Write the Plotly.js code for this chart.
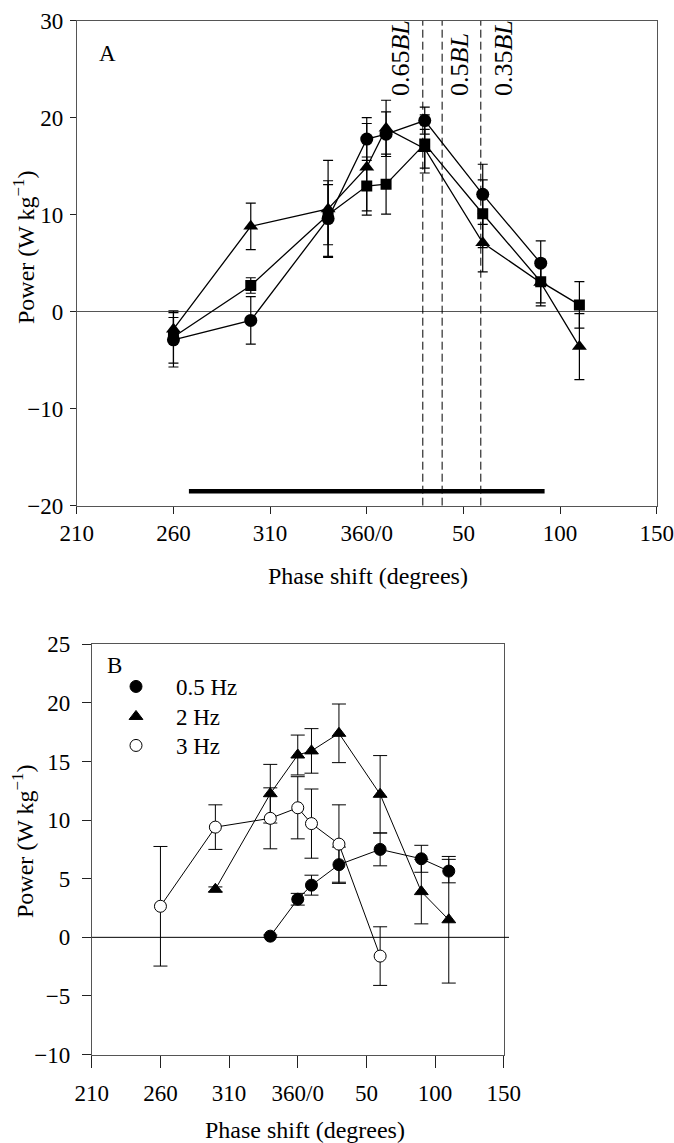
<!DOCTYPE html>
<html><head><meta charset="utf-8">
<script src="https://cdn.plot.ly/plotly-3.0.1.min.js"></script>
<style>html,body{margin:0;padding:0;background:#fff}#chart{width:674px;height:1143px}</style>
</head><body><div id="chart"></div>
<script>
// ---------- Panel A data (phase shift in degrees; 0..150 follows 360) ----------
const phaseA = [260, 300, 340, 0, 10, 30, 60, 90, 110];
const circleA = [-2.9, -0.9, 9.6, 17.8, 18.3, 19.7, 12.1, 5.0];
const circleAErr = [2.8, 2.45, 3.9, 2.2, 2.3, 1.4, 3.1, 2.3];
const triangleA = [-1.8, 8.8, 10.6, 14.9, 18.9, 16.8, 7.1, 3.0, -3.6];
const triangleAErr = [1.2, 2.4, 5.0, 4.5, 2.9, 2.0, 3.0, 2.4, 3.4];
const squareA = [-2.6, 2.7, 10.0, 12.95, 13.15, 17.3, 10.1, 3.1, 0.7];
const squareAErr = [2.7, 0.8, 3.1, 3.0, 3.1, 3.0, 3.5, 2.2, 2.4];
const bodyLengthPhase = [29, 39, 59];
const bodyLengthLabels = ['0.65<i>BL</i>', '0.5<i>BL</i>', '0.35<i>BL</i>'];
const barPhase = [268, 92];
const barPower = [-18.5, -18.5];

// ---------- Panel B data ----------
const phaseB05 = [340, 0, 10, 30, 60, 90, 110];
const power05 = [0.1, 3.25, 4.45, 6.2, 7.5, 6.7, 5.65];
const err05 = [0.1, 0.5, 0.85, 1.5, 1.4, 1.15, 1.0];
const phaseB2 = [300, 340, 0, 10, 30, 60, 90, 110];
const power2 = [4.1, 12.25, 15.55, 15.9, 17.4, 12.2, 3.9, 1.5];
const err2 = [0.2, 2.5, 1.7, 1.9, 2.5, 3.3, 2.75, 5.4];
const phaseB3 = [260, 300, 340, 0, 10, 30, 60];
const power3 = [2.65, 9.4, 10.15, 11.05, 9.7, 7.95, -1.6];
const err3 = [5.1, 1.9, 2.6, 2.65, 2.95, 3.35, 2.5];
const legendNames = ['0.5 Hz', '2 Hz', '3 Hz'];

const tickDegrees = [210, 260, 310, 360, 50, 100, 150];
const tickText = ['210', '260', '310', '360/0', '50', '100', '150'];

// unwrap phase so that 0..150 continues after 360
const unwrap = d => (d < 200 ? d + 360 : d);
const U = arr => arr.map(unwrap);

const W = 674, H = 1143;
const px = x => x / W;
const py = y => 1 - y / H;
const FONT = 'Liberation Serif, Times New Roman, serif';

function seriesA(xs, ys, err, symbol, size) {
  return {
    x: U(xs.slice(0, ys.length)), y: ys, xaxis: 'x', yaxis: 'y',
    mode: 'lines+markers', showlegend: false,
    line: {color: '#000', width: 1.3},
    marker: {symbol: symbol, size: size, color: '#000'},
    error_y: {type: 'data', array: err, visible: true, color: '#000', thickness: 1.2, width: 5}
  };
}
function lineB(xs, ys) {
  return {x: U(xs), y: ys, xaxis: 'x2', yaxis: 'y2', mode: 'lines', showlegend: false,
    line: {color: '#000', width: 1}, hoverinfo: 'skip'};
}
function markB(xs, ys, err, name, symbol, fill, size, legendId) {
  return {x: U(xs), y: ys, xaxis: 'x2', yaxis: 'y2', mode: 'markers', name: name, showlegend: true,
    legend: legendId,
    marker: {symbol: symbol, size: size, color: fill, line: {color: '#000', width: 1}},
    error_y: {type: 'data', array: err, visible: true, color: '#000', thickness: 1, width: 7}};
}

const traces = [
  seriesA(phaseA, circleA, circleAErr, 'circle', 13),
  seriesA(phaseA, triangleA, triangleAErr, 'triangle-up', 13),
  seriesA(phaseA, squareA, squareAErr, 'square', 11),
  {x: U(barPhase), y: barPower, xaxis: 'x', yaxis: 'y', mode: 'lines', showlegend: false,
   line: {color: '#000', width: 4.5}},
  lineB(phaseB05, power05), lineB(phaseB2, power2), lineB(phaseB3, power3),
  markB(phaseB05, power05, err05, legendNames[0], 'circle', '#000', 12, 'legend'),
  markB(phaseB2, power2, err2, legendNames[1], 'triangle-up', '#000', 12, 'legend2'),
  markB(phaseB3, power3, err3, legendNames[2], 'circle', '#fff', 12, 'legend3')
];

const axisCommon = {
  showgrid: false, showline: true, mirror: true, linecolor: '#555', linewidth: 1,
  ticks: 'outside', tickcolor: '#222', tickwidth: 1,
  tickfont: {family: FONT, size: 23, color: '#000'}, fixedrange: true
};
const xTicks = {tickmode: 'array', tickvals: tickDegrees.map(unwrap), ticktext: tickText};

const shapes = bodyLengthPhase.map(p => ({
  type: 'line', xref: 'x', yref: 'y', x0: unwrap(p), x1: unwrap(p), y0: -20, y1: 30,
  line: {color: '#000', width: 1, dash: '8px,4px'}
}));
shapes.push({type: 'line', xref: 'paper', yref: 'y2', x0: px(91.8), x1: px(509), y0: 0, y1: 0,
  line: {color: '#000', width: 1}});

const blShift = [-23, 18, 22];
const annotations = bodyLengthPhase.map((p, i) => ({
  x: unwrap(p), y: 22.0, xref: 'x', yref: 'y', text: bodyLengthLabels[i], showarrow: false,
  textangle: -90, xanchor: 'center', yanchor: 'bottom', xshift: blShift[i],
  font: {family: FONT, size: 26, color: '#000'}
}));
const textAnn = (t, x, y, size, angle) => ({text: t, x: px(x), y: py(y), xref: 'paper', yref: 'paper',
  showarrow: false, xanchor: 'center', yanchor: 'middle', textangle: angle || 0,
  font: {family: FONT, size: size, color: '#000'}});
annotations.push(textAnn('A', 107, 53, 23));
annotations.push(textAnn('B', 114, 665, 23));
annotations.push(textAnn('Phase shift (degrees)', 368, 576, 24));
annotations.push(textAnn('Phase shift (degrees)', 305, 1130, 24));
annotations.push(textAnn('Power (W kg<sup>−1</sup>)', 24, 248, 24, -90));
annotations.push(textAnn('Power (W kg<sup>−1</sup>)', 23, 842, 24, -90));

const legendBase = (top) => ({x: px(96), y: py(top), xanchor: 'left', yanchor: 'top', bgcolor: 'rgba(0,0,0,0)',
  font: {family: FONT, size: 23, color: '#000'}, itemwidth: 70});

const layout = {
  width: W, height: H, margin: {l: 0, r: 0, t: 0, b: 0},
  paper_bgcolor: '#fff', plot_bgcolor: '#fff',
  font: {family: FONT, color: '#000'},
  xaxis: Object.assign({}, axisCommon, xTicks, {domain: [px(76.8), px(656.7)], range: [210, 510], ticklen: 7, anchor: 'y', zeroline: false}),
  yaxis: Object.assign({}, axisCommon, {domain: [py(505.7), py(20.7)], range: [-20, 30], dtick: 10, ticklen: 6, anchor: 'x',
    ticklabelstandoff: 2, zeroline: true, zerolinecolor: '#555', zerolinewidth: 1}),
  xaxis2: Object.assign({}, axisCommon, xTicks, {domain: [px(91.8), px(503.7)], range: [210, 510], ticklen: 12, anchor: 'y2',
    ticklabelstandoff: 6, zeroline: false}),
  yaxis2: Object.assign({}, axisCommon, {domain: [py(1054.6), py(644.2)], range: [-10, 25], dtick: 5, ticklen: 9, anchor: 'x2',
    ticklabelstandoff: 7, zeroline: false}),
  showlegend: true,
  legend: legendBase(665),
  legend2: legendBase(695),
  legend3: legendBase(724),
  shapes: shapes, annotations: annotations
};

Plotly.newPlot('chart', traces, layout, {displayModeBar: false, staticPlot: true});
</script></body></html>
